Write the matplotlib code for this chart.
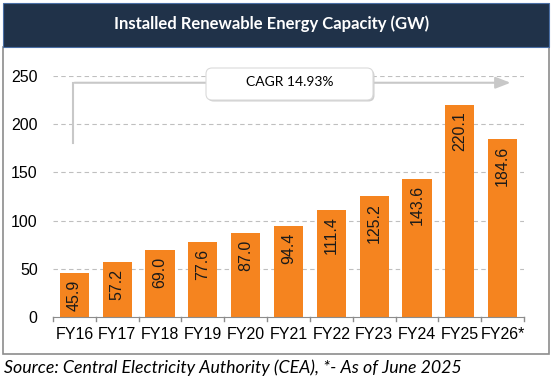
import matplotlib.pyplot as plt
from matplotlib.patches import Rectangle, FancyBboxPatch
from matplotlib.transforms import IdentityTransform

years = ['FY16', 'FY17', 'FY18', 'FY19', 'FY20', 'FY21', 'FY22', 'FY23', 'FY24', 'FY25', 'FY26*']
capacity = [45.9, 57.2, 69.0, 77.6, 87.0, 94.4, 111.4, 125.2, 143.6, 220.1, 184.6]
yticks = [0, 50, 100, 150, 200, 250]
cagr_label = 'CAGR 14.93%'

W, H = 553, 381
fig = plt.figure(figsize=(W / 100, H / 100), dpi=100)
fig.patch.set_facecolor('white')

# header band and outer frame (pixel coords -> figure fraction)
def px(x0, y0, x1, y1):
    return (x0 / W, 1 - y1 / H, (x1 - x0) / W, (y1 - y0) / H)

l, b, w, h = px(3, 47, 549, 354)
fig.patches.append(Rectangle((l, b), w, h, transform=fig.transFigure,
                             facecolor='white', edgecolor='#8C8C8C', lw=1.2, zorder=-2))
l, b, w, h = px(3, 3, 549, 47)
fig.patches.append(Rectangle((l, b), w, h, transform=fig.transFigure,
                             facecolor='#203249', edgecolor='#4A6FA5', lw=0.8, zorder=-1))
fig.text(272 / W, 1 - 24 / H, 'Installed Renewable Energy Capacity (GW)',
         color='white', fontsize=12, fontweight='bold', family='Lato',
         ha='center', va='center')

ax = fig.add_axes(px(53, 76, 524, 317))
x = range(len(years))
ax.bar(x, capacity, width=0.68, color='#F5841F', zorder=2)
for i, v in enumerate(capacity):
    ax.text(i, v - 7, f'{v:.1f}', rotation=90, ha='center', va='top',
            fontsize=11.5, family='Liberation Sans', color='#1a1a1a', zorder=3)

ax.set_xlim(-0.5, len(years) - 0.5)
ax.set_ylim(0, 250)
ax.set_yticks(yticks)
ax.set_yticklabels([str(t) for t in yticks], family='Liberation Sans', fontsize=11.5)
ax.set_xticks(list(x))
ax.set_xticklabels(years, family='Liberation Sans', fontsize=11.5)
ax.tick_params(axis='x', length=0, pad=7)
ax.tick_params(axis='y', length=0, pad=11)
for t in [i - 0.5 for i in range(len(years) + 1)]:
    ax.plot([t, t], [0, -4], color='#8C8C8C', lw=1, clip_on=False)
for t in yticks[1:]:
    ax.axhline(t, color='#BFBFBF', lw=0.8, ls=(0, (4, 3)), zorder=1)
for s in ['top', 'right', 'left']:
    ax.spines[s].set_visible(False)
ax.spines['bottom'].set_color('#8C8C8C')
ax.spines['bottom'].set_zorder(4)
ax.set_facecolor('none')

# CAGR arrow
ax.plot([-0.03, -0.03], [180, 243], color='#C8C8C8', lw=1.5, clip_on=False, zorder=1)
ax.annotate('', xy=(10.25, 243), xytext=(-0.06, 243),
            arrowprops=dict(arrowstyle='-|>,head_length=0.9,head_width=0.35',
                            color='#C8C8C8', lw=1.5), annotation_clip=False, zorder=1)

# CAGR label box, drawn in pixels so the corners stay round
bx0, bx1, by0, by1 = 206, 373, H - 100, H - 68
fig.patches.append(FancyBboxPatch((bx0 + 1.5, by0 - 1.5), bx1 - bx0, by1 - by0,
                                  boxstyle='round,pad=0,rounding_size=6',
                                  transform=IdentityTransform(), facecolor='#CFCFCF',
                                  edgecolor='none', zorder=5))
fig.patches.append(FancyBboxPatch((bx0, by0), bx1 - bx0, by1 - by0,
                                  boxstyle='round,pad=0,rounding_size=6',
                                  transform=IdentityTransform(), facecolor='white',
                                  edgecolor='#DADADA', lw=0.8, zorder=6))
fig.text((bx0 + bx1) / 2 / W, 1 - 82 / H, cagr_label, ha='center', va='center',
         fontsize=10, family='Lato', zorder=7)

fig.text(4 / W, 1 - 368 / H, 'Source: Central Electricity Authority (CEA), *- As of June 2025',
         fontsize=12.8, style='italic', family='Lato', ha='left', va='center')

fig.savefig('out.png', dpi=100)
